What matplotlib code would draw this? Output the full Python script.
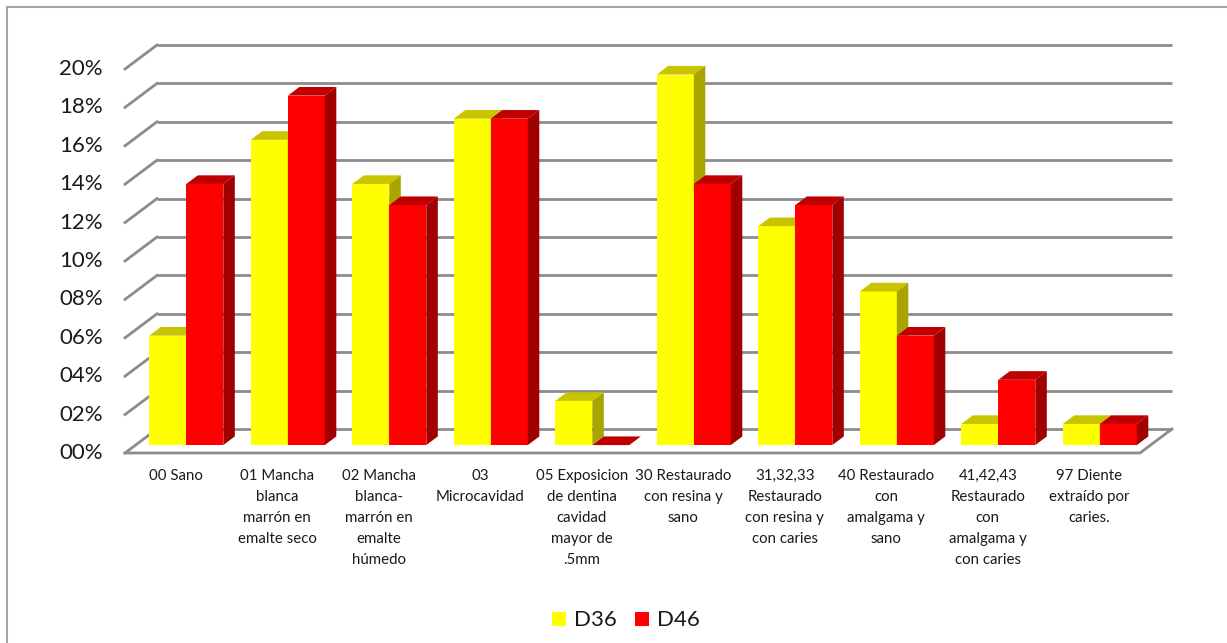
import matplotlib
matplotlib.use("Agg")
import matplotlib.pyplot as plt
from matplotlib.patches import Polygon
from matplotlib.lines import Line2D

categories = [
    "00 Sano",
    "01 Mancha\nblanca\nmarrón en\nemalte seco",
    "02 Mancha\nblanca-\nmarrón en\nemalte\nhúmedo",
    "03\nMicrocavidad",
    "05 Exposicion\nde dentina\ncavidad\nmayor de\n.5mm",
    "30 Restaurado\ncon resina y\nsano",
    "31,32,33\nRestaurado\ncon resina y\ncon caries",
    "40 Restaurado\ncon\namalgama y\nsano",
    "41,42,43\nRestaurado\ncon\namalgama y\ncon caries",
    "97 Diente\nextraído por\ncaries.",
]
d36 = [5.7, 15.9, 13.6, 17.0, 2.3, 19.3, 11.4, 8.0, 1.1, 1.1]
d46 = [13.6, 18.2, 12.5, 17.0, 0.0, 13.6, 12.5, 5.7, 3.4, 1.1]
series = [("D36", d36), ("D46", d46)]
yticks = [0, 2, 4, 6, 8, 10, 12, 14, 16, 18, 20]

# colours: front, top, side
colors = {
    "D36": ("#ffff00", "#c8c400", "#a8a400"),
    "D46": ("#ff0000", "#c00000", "#a00000"),
}
grid_color = "#8c8c8c"

# fake 3d: full floor depth offset in data units
DX, DY = 0.315, 1.25
d0, dd = 0.33, 0.36   # bar front depth and bar depth (fractions of floor)
bw = 0.3645

W, H = 1227, 643
fig = plt.figure(figsize=(W / 100, H / 100), dpi=100)
fig.patch.set_facecolor("white")

# chart border (top and left edges visible)
fig.add_artist(Line2D([7 / W, 1], [1 - 7 / H, 1 - 7 / H], color="#a6a6a6", lw=1.5))
fig.add_artist(Line2D([7 / W, 7 / W], [0, 1 - 7 / H], color="#a6a6a6", lw=1.5))

ax = fig.add_axes([115 / W, (H - 460) / H, 1065 / W, 425 / H])
ax.set_xlim(-0.5 - 10 / 101.5, 9.5 + 40 / 101.5)
ax.set_ylim(-7 / 19.2, 418 / 19.2)
ax.axis("off")

n = len(categories)
# back wall gridlines and left diagonals
for t in yticks:
    ax.plot([-0.5 + DX, n - 0.5 + DX], [t + DY, t + DY], color=grid_color, lw=2, zorder=1,
            solid_capstyle="butt")
    ax.plot([-0.5, -0.5 + DX], [t, t + DY], color=grid_color, lw=2, zorder=1)
    ax.text(-0.5 - 22 / 101.5, t, f"{t:02d}%", ha="right", va="center",
            fontsize=16, family="Lato", color="#1a1a1a")
# floor front edge and right diagonal
ax.plot([-0.5, n - 0.5, n - 0.5 + DX], [0, 0, DY], color=grid_color, lw=2, zorder=1)

for i in range(n):
    for s, (name, vals) in enumerate(series):
        front, top, side = colors[name]
        v = vals[i]
        x0 = i - bw + s * bw + d0 * DX
        x1 = x0 + bw
        y0 = d0 * DY
        y1 = y0 + v
        ax.bar(x0, v, width=bw, bottom=y0, align="edge", color=front, lw=0, zorder=3)
        ax.add_patch(Polygon([(x0, y1), (x1, y1), (x1 + dd * DX, y1 + dd * DY),
                              (x0 + dd * DX, y1 + dd * DY)], closed=True,
                             facecolor=top, lw=0, zorder=3))
        ax.add_patch(Polygon([(x1, y0), (x1, y1), (x1 + dd * DX, y1 + dd * DY),
                              (x1 + dd * DX, y0 + dd * DY)], closed=True,
                             facecolor=side, lw=0, zorder=3))

# category labels
for i, lab in enumerate(categories):
    ax.text(i, -16 / 19.2, lab, ha="center", va="top", fontsize=10.8,
            family="Lato", linespacing=1.63, color="#1a1a1a")

# legend
leg_items = [("D36", 552), ("D46", 635)]
for name, px in leg_items:
    fig.add_artist(plt.Rectangle((px / W, (H - 626) / H), 14 / W, 14 / H,
                                 facecolor=colors[name][0], lw=0))
    fig.text((px + 22) / W, (H - 620) / H, name, ha="left", va="center",
             fontsize=16, family="Lato", color="#1a1a1a")

fig.savefig("out.png", dpi=100, facecolor="white")
